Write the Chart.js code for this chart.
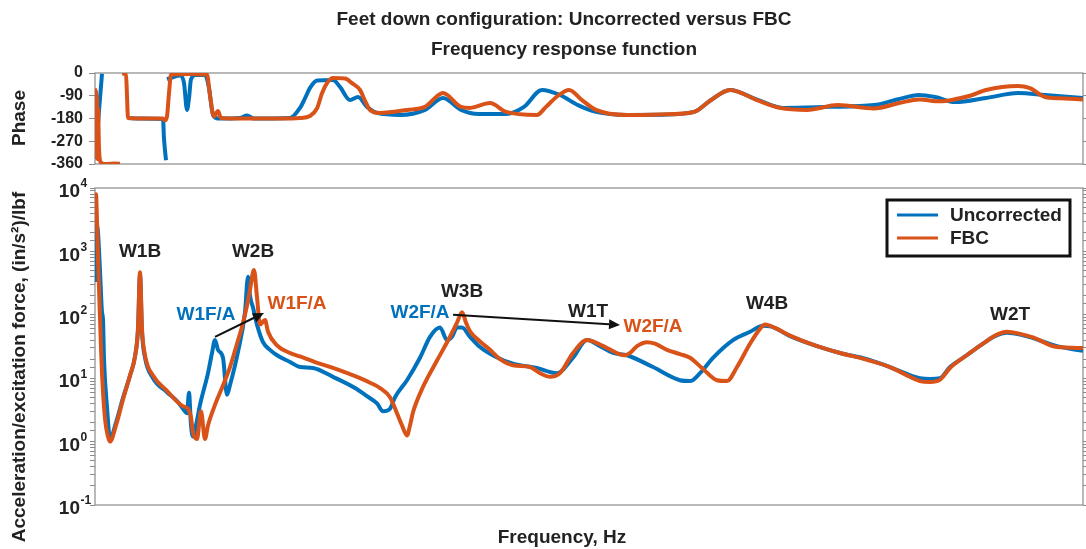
<!DOCTYPE html>
<html>
<head>
<meta charset="utf-8">
<script src="https://cdn.jsdelivr.net/npm/chart.js@4.4.1/dist/chart.umd.min.js"></script>
<style>
    body { margin: 0; background: #fff; }
    #wrap { position: relative; width: 1086px; height: 549px; overflow: hidden;
            font-family: "Liberation Sans", Arial, sans-serif; font-weight: bold; color: #222; }
    canvas { position: absolute; left: 0; top: 0; }
    .lbl { position: absolute; white-space: nowrap; text-align: center; font-size: 19px; line-height: 30px; }
    .rot { transform: rotate(-90deg); }
</style>
</head>
<body>
<div id="wrap">
    <canvas id="phase" width="1086" height="549"></canvas>
    <canvas id="mag" width="1086" height="549"></canvas>
    <div class="lbl" style="left:264px; top:4px; width:600px;">Feet down configuration: Uncorrected versus FBC<br>Frequency response function</div>
    <div class="lbl rot" style="left:-31px; top:103px; width:100px;">Phase</div>
    <div class="lbl rot" style="left:-181px; top:352px; width:400px;">Acceleration/excitation force, (in/s²)/lbf</div>
    <div class="lbl" style="left:462px; top:522px; width:200px;">Frequency, Hz</div>
</div>
<script>
const FONT = '"Liberation Sans", Arial, sans-serif';
const BLUE = '#0072BD';
const ORANGE = '#D95319';

const seriesNames = ['Uncorrected', 'FBC'];

// magnitude, (in/s^2)/lbf
const uncorrMagFreq = [95, 96, 97, 98, 100, 102, 103, 104, 107, 110, 116, 123, 130, 135, 138, 140, 142, 145, 153, 167, 178, 185, 187, 189, 191, 193, 196, 200, 208, 212, 215, 218, 223, 227, 230, 238, 245, 248, 250, 253, 257, 263, 270, 277, 290, 300, 313, 333, 355, 367, 377, 383, 390, 395, 407, 420, 430, 440, 447, 452, 457, 462, 470, 480, 495, 513, 537, 557, 573, 587, 600, 613, 627, 653, 680, 690, 700, 713, 733, 750, 763, 770, 790, 817, 840, 867, 890, 905, 920, 930, 940, 950, 965, 983, 995, 1007, 1020, 1033, 1057, 1083];
const uncorrMag = [330, 3000, 2600, 2000, 500, 110, 85, 20, 3.5, 1.1, 2.0, 4.9, 11, 22, 60, 430, 54, 21, 10, 6, 4.2, 3.0, 2.8, 5.9, 1.8, 1.2, 1.8, 3.8, 12, 25, 40, 28, 21, 5.5, 7.8, 26, 110, 400, 200, 130, 70, 37, 28, 23, 18, 15, 14.5, 10.5, 7, 5.2, 4, 3, 3.3, 5, 9.3, 21, 45, 63, 40, 45, 63, 63, 45, 31, 22, 17, 14.5, 12, 21, 40, 32, 25, 23, 15, 9.3, 9, 12, 21, 40, 54, 67, 66, 46, 32, 25, 20, 15, 12, 10, 9.7, 10, 15, 22, 35, 46, 52, 49, 43, 32, 27];

const fbcMagFreq = [95, 96, 97, 98, 100, 101, 102, 105, 108, 110, 116, 123, 130, 135, 138, 140, 142, 145, 153, 167, 183, 188, 191, 193, 197, 201, 205, 208, 215, 223, 230, 237, 242, 247, 250, 254, 257, 260, 265, 268, 277, 290, 300, 315, 333, 360, 370, 380, 390, 397, 402, 407, 410, 413, 423, 437, 450, 457, 462, 466, 470, 480, 490, 500, 513, 530, 540, 550, 560, 573, 587, 600, 607, 625, 630, 637, 647, 655, 667, 680, 690, 703, 717, 727, 737, 750, 760, 765, 775, 790, 817, 840, 867, 890, 905, 920, 930, 940, 950, 965, 983, 995, 1007, 1020, 1033, 1057, 1083];
const fbcMag = [6000, 8000, 3000, 800, 90, 30, 12, 2.3, 1.2, 1.0, 1.8, 4.6, 11, 22, 60, 470, 60, 23, 11, 6.3, 3.6, 3.3, 2.4, 1.4, 1.1, 3.0, 1.1, 1.8, 3.8, 7.7, 15, 35, 65, 140, 250, 510, 190, 70, 83, 54, 33, 25, 22, 18, 14.5, 10, 8.5, 7, 5, 2.8, 1.8, 1.25, 1.8, 2.9, 7.3, 19, 45, 75, 110, 75, 55, 38, 28, 20, 16, 15, 12, 10.5, 12, 25, 40, 34, 30, 23, 25, 32, 37, 35, 28, 24, 21, 14, 9.3, 9, 15, 35, 60, 70, 62, 47, 32, 25, 19.5, 15, 11.5, 9, 8.7, 9.5, 14.5, 22, 35, 47, 54, 50, 44, 31, 30];

// phase, degrees (null = wrap gap)
const uncorrPhaseFreq = [94, 96, 99, 102, 103, 128, 140, 163, 164, 166, 166.5, 167, 172, 180, 184, 187, 189, 191, 196, 205, 209, 213, 218, 240, 247, 254, 290, 300, 305, 310, 317, 333, 340, 350, 358, 367, 377, 400, 425, 443, 461, 479, 506, 524, 542, 560, 578, 596, 627, 660, 694, 710, 730, 757, 784, 829, 874, 897, 919, 935, 955, 986, 1018, 1045, 1083];
const uncorrPhase = [-340, -300, -150, -3, null, -178, -180, -182, -260, -345, null, -25, -18, -10, -40, -146, -100, -25, -8, -8, -60, -166, -180, -178, -168, -180, -178, -138, -100, -59, -30, -28, -55, -107, -95, -134, -158, -166, -146, -99, -146, -162, -162, -134, -67, -87, -127, -154, -166, -165, -154, -110, -67, -105, -138, -134, -127, -105, -87, -95, -115, -99, -79, -87, -99];

const fbcPhaseFreq = [95, 95.5, 96, 96.5, 97, 97.5, 98, 99, 100, 102, 106, 115, 120, 121, 122, 126, 127, 128, 150, 163, 165, 167, 169, 171, 190, 207, 210, 214, 218, 221, 240, 280, 300, 310, 317, 322, 327, 333, 345, 352, 360, 365, 370, 380, 407, 425, 443, 461, 470, 490, 506, 537, 546, 558, 569, 582, 596, 627, 660, 694, 710, 730, 757, 780, 807, 838, 874, 900, 919, 940, 955, 970, 986, 1018, 1030, 1045, 1060, 1083];
const fbcPhase = [-60, -330, -70, -320, -90, -340, -140, -300, -345, -357, -360, -358, -359, null, -2, -4, -90, -178, -180, -180, -188, -172, -80, -6, -4, -6, -90, -172, -150, -178, -180, -180, -178, -170, -140, -80, -40, -20, -22, -40, -67, -110, -146, -158, -146, -134, -79, -134, -138, -119, -154, -166, -134, -90, -67, -107, -146, -166, -164, -154, -110, -67, -107, -138, -146, -127, -140, -118, -105, -112, -104, -90, -67, -51, -60, -95, -100, -105];

const magDecades = [4, 3, 2, 1, 0, -1];

// mode labels on the magnitude plot (frequency, magnitude)
const notes = [
    { text: 'W1B', x: 140, y: 1000, color: '#222' },
    { text: 'W2B', x: 253, y: 1000, color: '#222' },
    { text: 'W1F/A', x: 206, y: 100, color: BLUE },
    { text: 'W1F/A', x: 297, y: 150, color: ORANGE },
    { text: 'W3B', x: 462, y: 230, color: '#222' },
    { text: 'W2F/A', x: 420, y: 107, color: BLUE },
    { text: 'W1T', x: 588, y: 110, color: '#222' },
    { text: 'W2F/A', x: 653, y: 65, color: ORANGE },
    { text: 'W4B', x: 767, y: 150, color: '#222' },
    { text: 'W2T', x: 1010, y: 100, color: '#222' }
];
const arrows = [
    { from: [215, 45], to: [264, 107] },
    { from: [453, 100], to: [620, 69] }
];

const pts = (xs, ys) => xs.map((x, i) => ({ x: x, y: ys[i] }));

function lineSet(label, color, data, order) {
    return {
        label: label,
        data: data,
        borderColor: color,
        backgroundColor: color,
        borderWidth: 4,
        pointRadius: 0,
        cubicInterpolationMode: 'monotone',
        spanGaps: false,
        order: order
    };
}

const frame = {
    id: 'frame',
    beforeDatasetsDraw(chart) {
        const a = chart.chartArea;
        const ctx = chart.ctx;
        ctx.save();
        ctx.strokeStyle = '#8a8a8a';
        ctx.lineWidth = 1.2;
        ctx.strokeRect(a.left, a.top, a.right - a.left, a.bottom - a.top);
        ctx.restore();
    }
};

const decadeLabels = {
    id: 'decadeLabels',
    afterDraw(chart) {
        const ctx = chart.ctx;
        const y = chart.scales.y;
        const right = y.right - 15;
        ctx.save();
        ctx.fillStyle = '#222';
        ctx.textBaseline = 'middle';
        magDecades.forEach(p => {
            const py = y.getPixelForValue(Math.pow(10, p));
            ctx.font = 'bold 19px ' + FONT;
            ctx.textAlign = 'right';
            ctx.fillText('10', right, py + 4);
            ctx.font = 'bold 12px ' + FONT;
            ctx.textAlign = 'left';
            ctx.fillText(String(p), right + 0.5, py - 4);
        });
        ctx.restore();
    }
};

const markers = {
    id: 'markers',
    afterDatasetsDraw(chart) {
        const ctx = chart.ctx;
        const x = chart.scales.x, y = chart.scales.y;
        ctx.save();
        ctx.font = 'bold 19px ' + FONT;
        ctx.textAlign = 'center';
        ctx.textBaseline = 'middle';
        notes.forEach(n => {
            ctx.fillStyle = n.color;
            ctx.fillText(n.text, x.getPixelForValue(n.x), y.getPixelForValue(n.y));
        });
        ctx.strokeStyle = '#111';
        ctx.fillStyle = '#111';
        ctx.lineWidth = 2;
        arrows.forEach(a => {
            const x1 = x.getPixelForValue(a.from[0]), y1 = y.getPixelForValue(a.from[1]);
            const x2 = x.getPixelForValue(a.to[0]), y2 = y.getPixelForValue(a.to[1]);
            const ang = Math.atan2(y2 - y1, x2 - x1);
            const hl = 11, hw = 5;
            const bx = x2 - hl * Math.cos(ang), by = y2 - hl * Math.sin(ang);
            ctx.beginPath();
            ctx.moveTo(x1, y1);
            ctx.lineTo(bx, by);
            ctx.stroke();
            ctx.beginPath();
            ctx.moveTo(x2, y2);
            ctx.lineTo(bx - hw * Math.sin(ang), by + hw * Math.cos(ang));
            ctx.lineTo(bx + hw * Math.sin(ang), by - hw * Math.cos(ang));
            ctx.closePath();
            ctx.fill();
        });
        ctx.restore();
    }
};

const legendBox = {
    id: 'legendBox',
    afterDraw(chart) {
        const ctx = chart.ctx;
        const a = chart.chartArea;
        const w = 183, h = 56;
        const bx = a.right - 13 - w, by = a.top + 12;
        ctx.save();
        ctx.fillStyle = '#fff';
        ctx.fillRect(bx, by, w, h);
        ctx.lineWidth = 3;
        ctx.strokeStyle = '#111';
        ctx.strokeRect(bx, by, w, h);
        [BLUE, ORANGE].forEach((c, i) => {
            const ly = by + 15 + i * 23;
            ctx.strokeStyle = c;
            ctx.lineWidth = 3;
            ctx.beginPath();
            ctx.moveTo(bx + 10, ly);
            ctx.lineTo(bx + 51, ly);
            ctx.stroke();
            ctx.fillStyle = '#222';
            ctx.font = 'bold 19px ' + FONT;
            ctx.textAlign = 'left';
            ctx.textBaseline = 'middle';
            ctx.fillText(seriesNames[i], bx + 63, ly + 1);
        });
        ctx.restore();
    }
};

function baseOptions(top, bottom, yScale, yRight) {
    return {
        responsive: false,
        animation: false,
        devicePixelRatio: 1,
        layout: { padding: { top: top, bottom: bottom, left: 0, right: 0 } },
        plugins: { legend: { display: false }, tooltip: { enabled: false } },
        scales: {
            x: { type: 'linear', min: 95, max: 1083, display: false },
            y: yScale,
            y2: yRight
        }
    };
}

const tickGrid = { drawOnChartArea: false, drawTicks: true, tickLength: 6, color: '#8a8a8a', lineWidth: 1 };

// phase panel
new Chart(document.getElementById('phase'), {
    type: 'line',
    data: {
        datasets: [
            lineSet(seriesNames[0], BLUE, pts(uncorrPhaseFreq, uncorrPhase), 1),
            lineSet(seriesNames[1], ORANGE, pts(fbcPhaseFreq, fbcPhase), 0)
        ]
    },
    options: baseOptions(73, 549 - 164, {
        type: 'linear', position: 'left', min: -360, max: 0,
        border: { display: false },
        grid: tickGrid,
        ticks: { stepSize: 90, autoSkip: false, padding: 6, color: '#222', font: { family: FONT, size: 16, weight: 'bold' } },
        afterFit: s => { s.width = 95; }
    }, {
        type: 'linear', position: 'right', min: -360, max: 0,
        border: { display: false },
        grid: tickGrid,
        ticks: { stepSize: 90, autoSkip: false, display: false },
        afterFit: s => { s.width = 3; }
    }),
    plugins: [frame]
});

// magnitude panel
new Chart(document.getElementById('mag'), {
    type: 'line',
    data: {
        datasets: [
            lineSet(seriesNames[0], BLUE, pts(uncorrMagFreq, uncorrMag), 1),
            lineSet(seriesNames[1], ORANGE, pts(fbcMagFreq, fbcMag), 0)
        ]
    },
    options: baseOptions(188, 549 - 505, {
        type: 'logarithmic', position: 'left', min: 0.1, max: 10000,
        border: { display: false },
        grid: Object.assign({}, tickGrid, { tickLength: 5 }),
        ticks: { display: false, autoSkip: false },
        afterFit: s => { s.width = 95; }
    }, {
        type: 'logarithmic', position: 'right', min: 0.1, max: 10000,
        border: { display: false },
        grid: Object.assign({}, tickGrid, { tickLength: 5 }),
        ticks: { display: false, autoSkip: false },
        afterFit: s => { s.width = 3; }
    }),
    plugins: [frame, decadeLabels, markers, legendBox]
});
</script>
</body>
</html>
